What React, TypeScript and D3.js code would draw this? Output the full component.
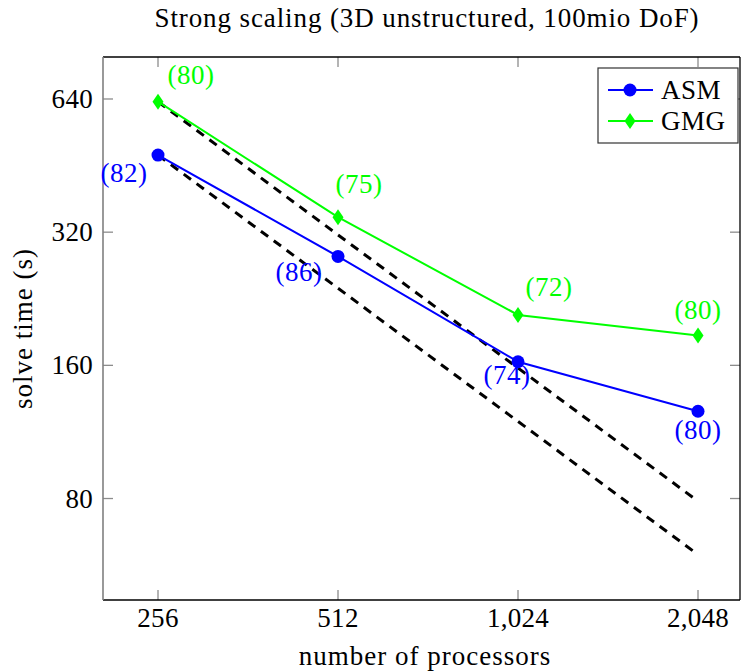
import React from "react";
import * as d3 from "d3";

const processors = [256, 512, 1024, 2048];
const xTickLabels = ["256", "512", "1,024", "2,048"];
const yTicks = [80, 160, 320, 640];
const yTickLabels = ["80", "160", "320", "640"];

const asmTimes = [478, 282, 163, 126];
const gmgTimes = [631, 346, 208, 187];
const asmIters = ["(82)", "(86)", "(74)", "(80)"];
const gmgIters = ["(80)", "(75)", "(72)", "(80)"];

// ideal strong-scaling reference lines (start and end)
const idealProcs = [256, 2048];
const idealASM = [478, 59.75];
const idealGMG = [631, 78.9];

// label placement offsets (label centre relative to its point)
const asmLabelOffsets: [number, number][] = [[-34, 20], [-39, 18], [-11, 16], [0, 21]];
const gmgLabelOffsets: [number, number][] = [[33, -24], [21, -31], [31, -25], [0, -23]];

const W = 743;
const H = 672;
const left = 103, right = 740, top = 57, bottom = 600;
const BLUE = "#0000ff";
const GREEN = "#00ff00";
const FONT = "'Liberation Serif', 'Times New Roman', serif";
const FS = 27;

export default function App() {
  const x = d3
    .scaleLog()
    .base(2)
    .domain([256 / Math.pow(2, 55 / 180), 2048 * Math.pow(2, 42 / 180)])
    .range([left, right]);
  const y = d3
    .scaleLog()
    .base(2)
    .domain([80 / Math.pow(2, 101.5 / 133.2), 640 * Math.pow(2, 42 / 133.2)])
    .range([bottom, top]);

  const line = d3
    .line<[number, number]>()
    .x((d) => x(d[0]))
    .y((d) => y(d[1]));

  const asmPts: [number, number][] = processors.map((p, i) => [p, asmTimes[i]]);
  const gmgPts: [number, number][] = processors.map((p, i) => [p, gmgTimes[i]]);
  const idA: [number, number][] = idealProcs.map((p, i) => [p, idealASM[i]]);
  const idG: [number, number][] = idealProcs.map((p, i) => [p, idealGMG[i]]);

  const diamond = (cx: number, cy: number, w = 5.5, h = 8) =>
    `M${cx},${cy - h}L${cx + w},${cy}L${cx},${cy + h}L${cx - w},${cy}Z`;

  const tickLen = 10;
  const tickColor = "#8c8c8c";

  return (
    <svg width={W} height={H} style={{ position: "absolute", left: 0, top: 0 }} fontFamily={FONT}>
      <rect x={0} y={0} width={W} height={H} fill="white" />
      {/* title */}
      <text x={427} y={27} textAnchor="middle" fontSize={FS} letterSpacing={0.9}>
        Strong scaling (3D unstructured, 100mio DoF)
      </text>

      {/* ticks */}
      {processors.map((p, i) => (
        <g key={"xt" + i}>
          <line x1={x(p)} x2={x(p)} y1={bottom} y2={bottom - tickLen} stroke={tickColor} strokeWidth={1.3} />
          <line x1={x(p)} x2={x(p)} y1={top} y2={top + tickLen} stroke={tickColor} strokeWidth={1.3} />
          <text x={x(p)} y={627} textAnchor="middle" fontSize={FS} letterSpacing={0.3}>
            {xTickLabels[i]}
          </text>
        </g>
      ))}
      {yTicks.map((v, i) => (
        <g key={"yt" + i}>
          <line x1={left} x2={left + tickLen} y1={y(v)} y2={y(v)} stroke={tickColor} strokeWidth={1.3} />
          <line x1={right} x2={right - tickLen} y1={y(v)} y2={y(v)} stroke={tickColor} strokeWidth={1.3} />
          <text x={93} y={y(v) + 9} textAnchor="end" fontSize={FS} letterSpacing={0.3}>
            {yTickLabels[i]}
          </text>
        </g>
      ))}

      {/* frame */}
      <line x1={left} x2={right} y1={top} y2={top} stroke="black" strokeWidth={1.3} />
      <line x1={left} x2={right} y1={bottom} y2={bottom} stroke="black" strokeWidth={1.3} />
      <line x1={right} x2={right} y1={top} y2={bottom} stroke="black" strokeWidth={1.3} />
      <line x1={left} x2={left} y1={top} y2={bottom} stroke="#808080" strokeWidth={1.6} />

      {/* axis labels */}
      <text x={425} y={665} textAnchor="middle" fontSize={FS} letterSpacing={1}>
        number of processors
      </text>
      <text
        transform={`translate(32, ${(top + bottom) / 2}) rotate(-90)`}
        textAnchor="middle"
        fontSize={FS}
        letterSpacing={1}
      >
        solve time (s)
      </text>

      {/* ideal lines */}
      <path d={line(idA) || ""} fill="none" stroke="black" strokeWidth={3} strokeDasharray="9,7" />
      <path d={line(idG) || ""} fill="none" stroke="black" strokeWidth={3} strokeDasharray="9,7" />

      {/* series */}
      <path d={line(gmgPts) || ""} fill="none" stroke={GREEN} strokeWidth={2} />
      <path d={line(asmPts) || ""} fill="none" stroke={BLUE} strokeWidth={2} />
      {asmPts.map((d, i) => (
        <circle key={"ac" + i} cx={x(d[0])} cy={y(d[1])} r={6.5} fill={BLUE} />
      ))}
      {gmgPts.map((d, i) => (
        <path key={"gd" + i} d={diamond(x(d[0]), y(d[1]))} fill={GREEN} />
      ))}

      {/* iteration labels */}
      {asmPts.map((d, i) => (
        <text
          key={"al" + i}
          x={x(d[0]) + asmLabelOffsets[i][0]}
          y={y(d[1]) + asmLabelOffsets[i][1] + 6.5}
          textAnchor="middle"
          fontSize={FS}
          fill={BLUE}
          letterSpacing={0.5}
        >
          {asmIters[i]}
        </text>
      ))}
      {gmgPts.map((d, i) => (
        <text
          key={"gl" + i}
          x={x(d[0]) + gmgLabelOffsets[i][0]}
          y={y(d[1]) + gmgLabelOffsets[i][1] + 6.5}
          textAnchor="middle"
          fontSize={FS}
          fill={GREEN}
          letterSpacing={0.5}
        >
          {gmgIters[i]}
        </text>
      ))}

      {/* legend */}
      <g>
        <rect x={598} y={68} width={140} height={75} fill="white" stroke="#333" strokeWidth={1.2} />
        <line x1={608} x2={653} y1={90} y2={90} stroke={BLUE} strokeWidth={2} />
        <circle cx={630} cy={90} r={6.5} fill={BLUE} />
        <text x={661} y={99} fontSize={FS} letterSpacing={0.5}>ASM</text>
        <line x1={608} x2={653} y1={121} y2={121} stroke={GREEN} strokeWidth={2} />
        <path d={diamond(630, 121)} fill={GREEN} />
        <text x={661} y={130} fontSize={FS} letterSpacing={0.5}>GMG</text>
      </g>
    </svg>
  );
}
